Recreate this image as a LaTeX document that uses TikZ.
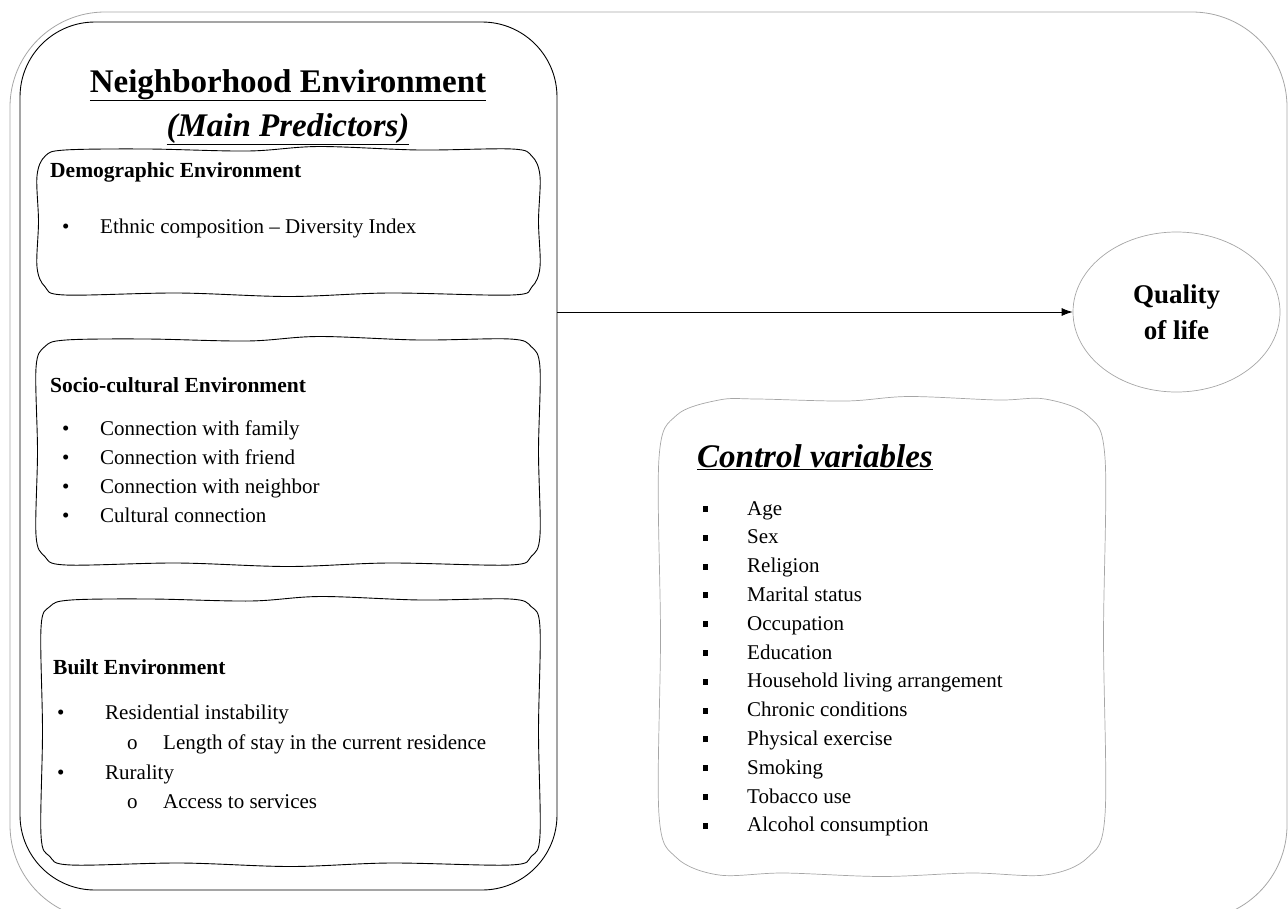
\documentclass[tikz,border=0pt]{standalone}
\usepackage{fontspec}
\setmainfont{Liberation Serif}
\usetikzlibrary{shapes.geometric,arrows.meta}

\newcommand{\sqbul}{\raisebox{3pt}{\rule{5pt}{6pt}}}
% hand-drawn box: [style]{left}{top}{right}{bottom}{corner}
\newcommand{\wbox}[6][]{%
  \pgfmathsetmacro\wl{#2}\pgfmathsetmacro\wt{#3}%
  \pgfmathsetmacro\wr{#4}\pgfmathsetmacro\wb{#5}%
  \pgfmathsetmacro\wc{#6}\pgfmathsetmacro\ww{#4-#2}\pgfmathsetmacro\wh{#5-#3}%
  \draw[#1] plot[smooth cycle,tension=0.55] coordinates {
    (\wl+\wc,\wt+2) (\wl+0.22*\ww,\wt+1) (\wl+0.42*\ww,\wt+3) (\wl+0.56*\ww,\wt-1.5)
    (\wl+0.76*\ww,\wt+2) (\wr-\wc,\wt+1) (\wr-0.29*\wc,\wt+0.29*\wc)
    (\wr,\wt+\wc) (\wr-1.5,\wt+0.5*\wh) (\wr,\wb-\wc)
    (\wr-0.29*\wc,\wb-0.29*\wc) (\wr-\wc,\wb) (\wl+0.7*\ww,\wb-2) (\wl+0.5*\ww,\wb+1.5)
    (\wl+0.28*\ww,\wb-2) (\wl+\wc,\wb) (\wl+0.29*\wc,\wb-0.29*\wc)
    (\wl,\wb-\wc) (\wl+1.5,\wt+0.5*\wh) (\wl,\wt+\wc) (\wl+0.29*\wc,\wt+0.29*\wc)};}

\begin{document}
\begin{tikzpicture}[x=1pt,y=-1pt,
  wavy/.style={line width=0.9pt},
  head/.style={font=\fontsize{21.5}{24}\selectfont\bfseries,inner sep=0pt,anchor=base west},
  item/.style={font=\fontsize{21}{24}\selectfont,inner sep=0pt,anchor=base west},
  big/.style={font=\fontsize{33}{36}\selectfont\bfseries,inner sep=0pt,anchor=base}]
\useasboundingbox (0,0) rectangle (1288,908);

\draw[gray!70,line width=0.8pt,rounded corners=95pt] (10,12) rectangle (1287,920);

\node[draw,rounded corners=75pt,minimum width=537pt,minimum height=868pt,line width=0.9pt] (nbhd) at (288.5,456) {};
\node[big] (ttl) at (288,92) {\underline{Neighborhood Environment}};
\node[big,font=\fontsize{33}{36}\selectfont\bfseries\itshape] (sub) at (288,136) {\underline{(Main Predictors)}};

\wbox[wavy]{37}{148}{540}{295}{28}
\node[head] (demohead) at (50,177) {Demographic Environment};
\node[item] (demo1) at (62,233) {\makebox[38pt][l]{\textbullet}Ethnic composition – Diversity Index};

\wbox[wavy]{36}{338}{540}{565}{30}
\node[head] (sochead) at (50,392) {Socio-cultural Environment};
\foreach \t [count=\i from 0] in {Connection with family,Connection with friend,Connection with neighbor,Cultural connection}
  \node[item] (soc\i) at (62,435+29.3*\i) {\makebox[38pt][l]{\textbullet}\t};

\wbox[wavy]{41}{598}{540}{865}{30}
\node[head] (blthead) at (53,674) {Built Environment};
\node[item] (blt1) at (57,719) {\makebox[48pt][l]{\textbullet}Residential instability};
\node[item] (blt2) at (127,749) {\makebox[36pt][l]{o}Length of stay in the current residence};
\node[item] (blt3) at (57,779) {\makebox[48pt][l]{\textbullet}Rurality};
\node[item] (blt4) at (127,808) {\makebox[36pt][l]{o}Access to services};

\wbox[draw=gray!70,line width=0.7pt]{659}{398}{1105}{875}{60}
\node[big,anchor=base west,font=\fontsize{33}{36}\selectfont\bfseries\itshape] (ctrlhead) at (697,467) {\underline{Control variables}};
\foreach \t [count=\i from 0] in {Age,Sex,Religion,Marital status,Occupation,Education,Household living arrangement,Chronic conditions,Physical exercise,Smoking,Tobacco use,Alcohol consumption}
  \node[item] (ctrl\i) at (703,515+28.8*\i) {\makebox[44pt][l]{\sqbul}\t};

\node[draw=gray!70,ellipse,line width=0.7pt,minimum width=207pt,minimum height=160pt,align=center,
  font=\fontsize{27}{36}\selectfont\bfseries] (qol) at (1176.5,312) {Quality\\of life};

\draw[-{Latex[length=11pt,width=8pt]},line width=0.8pt] (nbhd.east |- qol.west) -- (qol.west);
\end{tikzpicture}
\end{document}
